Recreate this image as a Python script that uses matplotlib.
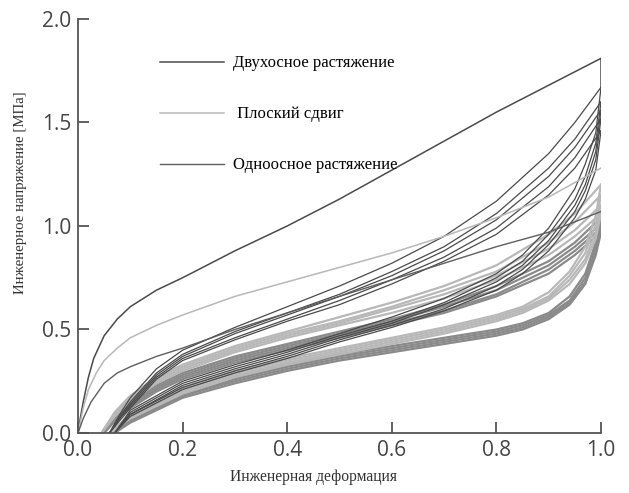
import matplotlib
matplotlib.use('Agg')
import matplotlib.pyplot as plt

# Двухосное растяжение (biaxial) - первое нагружение и петли
bi_first_x = [0, 0.005, 0.01, 0.02, 0.03, 0.05, 0.075, 0.1, 0.15, 0.2, 0.3, 0.4, 0.5, 0.6, 0.7, 0.8, 0.9, 1.0, 1.0]
bi_first_y = [0, 0.08, 0.15, 0.27, 0.36, 0.47, 0.55, 0.61, 0.69, 0.75, 0.88, 1.0, 1.13, 1.27, 1.41, 1.55, 1.68, 1.81, 1.67]
bi_load_x = [0.06, 0.08, 0.1, 0.15, 0.2, 0.3, 0.4, 0.5, 0.6, 0.7, 0.8, 0.9, 0.95, 1.0]
bi_load_y = [
    [0, 0.09, 0.17, 0.31, 0.40, 0.51, 0.61, 0.71, 0.82, 0.95, 1.12, 1.35, 1.50, 1.67],
    [0, 0.08, 0.15, 0.29, 0.38, 0.49, 0.58, 0.67, 0.78, 0.90, 1.06, 1.28, 1.42, 1.60],
    [0, 0.07, 0.14, 0.28, 0.37, 0.48, 0.57, 0.66, 0.76, 0.88, 1.03, 1.24, 1.38, 1.56],
    [0, 0.07, 0.13, 0.27, 0.36, 0.46, 0.55, 0.64, 0.74, 0.85, 0.99, 1.19, 1.33, 1.52],
    [0, 0.06, 0.12, 0.26, 0.35, 0.45, 0.54, 0.62, 0.72, 0.83, 0.96, 1.15, 1.28, 1.46],
]
bi_unload_x = [1.0, 0.99, 0.97, 0.95, 0.9, 0.85, 0.8, 0.7, 0.6, 0.5, 0.4, 0.3, 0.2, 0.1, 0.07]
bi_unload_y = [
    [1.67, 1.45, 1.30, 1.18, 0.99, 0.86, 0.77, 0.65, 0.56, 0.48, 0.40, 0.33, 0.25, 0.11, 0],
    [1.60, 1.40, 1.24, 1.13, 0.96, 0.83, 0.75, 0.63, 0.54, 0.47, 0.39, 0.32, 0.24, 0.10, 0],
    [1.56, 1.36, 1.20, 1.10, 0.93, 0.81, 0.73, 0.62, 0.53, 0.46, 0.38, 0.31, 0.23, 0.09, 0],
    [1.52, 1.32, 1.17, 1.07, 0.91, 0.79, 0.71, 0.60, 0.52, 0.45, 0.37, 0.30, 0.22, 0.09, 0],
    [1.46, 1.27, 1.13, 1.04, 0.88, 0.77, 0.69, 0.59, 0.51, 0.44, 0.36, 0.29, 0.21, 0.08, 0],
]

# Плоский сдвиг (planar shear)
pl_first_x = [0, 0.005, 0.01, 0.02, 0.035, 0.05, 0.075, 0.1, 0.15, 0.2, 0.3, 0.4, 0.5, 0.6, 0.7, 0.8, 0.9, 1.0]
pl_first_y = [0, 0.06, 0.12, 0.21, 0.29, 0.35, 0.41, 0.46, 0.52, 0.57, 0.66, 0.73, 0.80, 0.87, 0.95, 1.04, 1.14, 1.28]
pl_load_x = [0.045, 0.07, 0.1, 0.15, 0.2, 0.3, 0.4, 0.5, 0.6, 0.7, 0.8, 0.9, 0.95, 1.0]
pl_load_y = [
    [0, 0.10, 0.18, 0.27, 0.33, 0.42, 0.49, 0.56, 0.63, 0.71, 0.81, 0.96, 1.06, 1.20],
    [0, 0.09, 0.17, 0.26, 0.32, 0.41, 0.48, 0.54, 0.61, 0.69, 0.78, 0.92, 1.02, 1.15],
    [0, 0.09, 0.16, 0.25, 0.31, 0.40, 0.47, 0.53, 0.60, 0.67, 0.76, 0.89, 0.98, 1.10],
    [0, 0.08, 0.15, 0.24, 0.30, 0.39, 0.46, 0.52, 0.58, 0.65, 0.74, 0.86, 0.95, 1.06],
]
pl_unload_x = [1.0, 0.99, 0.97, 0.94, 0.9, 0.85, 0.8, 0.7, 0.6, 0.5, 0.4, 0.3, 0.2, 0.1, 0.06]
pl_unload_y = [
    [1.20, 1.05, 0.90, 0.78, 0.68, 0.61, 0.57, 0.51, 0.46, 0.41, 0.36, 0.30, 0.22, 0.09, 0],
    [1.15, 1.01, 0.87, 0.76, 0.66, 0.60, 0.56, 0.50, 0.45, 0.40, 0.35, 0.29, 0.21, 0.08, 0],
    [1.10, 0.97, 0.84, 0.74, 0.65, 0.59, 0.55, 0.49, 0.44, 0.39, 0.34, 0.28, 0.20, 0.08, 0],
    [1.06, 0.94, 0.82, 0.72, 0.64, 0.58, 0.54, 0.48, 0.43, 0.38, 0.33, 0.27, 0.19, 0.07, 0],
]

# Одноосное растяжение (uniaxial)
un_first_x = [0, 0.01, 0.025, 0.05, 0.075, 0.1, 0.15, 0.2, 0.3, 0.4, 0.5, 0.6, 0.7, 0.8, 0.9, 1.0]
un_first_y = [0, 0.07, 0.15, 0.24, 0.29, 0.32, 0.37, 0.41, 0.50, 0.58, 0.66, 0.74, 0.82, 0.90, 0.97, 1.07]
un_load_x = [0.05, 0.075, 0.1, 0.15, 0.2, 0.3, 0.4, 0.5, 0.6, 0.7, 0.8, 0.9, 0.95, 1.0]
un_load_y = [
    [0, 0.09, 0.15, 0.23, 0.29, 0.37, 0.43, 0.49, 0.55, 0.62, 0.71, 0.83, 0.92, 1.04],
    [0, 0.08, 0.14, 0.22, 0.28, 0.36, 0.42, 0.48, 0.54, 0.61, 0.69, 0.81, 0.90, 1.01],
    [0, 0.08, 0.13, 0.21, 0.27, 0.35, 0.41, 0.47, 0.53, 0.59, 0.67, 0.79, 0.88, 0.99],
    [0, 0.07, 0.12, 0.20, 0.26, 0.34, 0.40, 0.46, 0.52, 0.58, 0.66, 0.77, 0.86, 0.97],
]
un_unload_x = [1.0, 0.99, 0.97, 0.94, 0.9, 0.85, 0.8, 0.7, 0.6, 0.5, 0.4, 0.3, 0.2, 0.1, 0.07]
un_unload_y = [
    [1.04, 0.92, 0.77, 0.66, 0.58, 0.53, 0.50, 0.46, 0.42, 0.38, 0.33, 0.27, 0.19, 0.07, 0],
    [1.01, 0.90, 0.75, 0.64, 0.57, 0.52, 0.49, 0.45, 0.41, 0.37, 0.32, 0.26, 0.18, 0.06, 0],
    [0.99, 0.88, 0.73, 0.63, 0.56, 0.51, 0.48, 0.44, 0.40, 0.36, 0.31, 0.25, 0.18, 0.06, 0],
    [0.97, 0.86, 0.72, 0.62, 0.55, 0.50, 0.47, 0.43, 0.39, 0.35, 0.30, 0.24, 0.17, 0.05, 0],
]

labels = ['Двухосное растяжение', ' Плоский сдвиг', 'Одноосное растяжение']
c_bi, c_pl, c_un = '#4a4a4a', '#b8b8b8', '#8a8a8a'

fig = plt.figure(figsize=(6.29, 4.93), dpi=100)
ax = fig.add_axes([0.124, 0.1217, 0.8315, 0.8398])

# одноосное (толстые средне-серые)
for yy in un_load_y:
    ax.plot(un_load_x, yy, color=c_un, lw=1.6, solid_joinstyle='round')
for yy in un_unload_y:
    ax.plot(un_unload_x, yy, color=c_un, lw=1.6, solid_joinstyle='round')
# плоский сдвиг (светло-серые)
for yy in pl_load_y:
    ax.plot(pl_load_x, yy, color=c_pl, lw=1.6, solid_joinstyle='round')
for yy in pl_unload_y:
    ax.plot(pl_unload_x, yy, color=c_pl, lw=1.6, solid_joinstyle='round')
# двухосное (тёмные тонкие)
for yy in bi_load_y:
    ax.plot(bi_load_x, yy, color=c_bi, lw=0.9)
for yy in bi_unload_y:
    ax.plot(bi_unload_x, yy, color=c_bi, lw=0.9)

l1, = ax.plot(bi_first_x, bi_first_y, color=c_bi, lw=1.1)
l2, = ax.plot(pl_first_x, pl_first_y, color=c_pl, lw=1.1)
l3, = ax.plot(un_first_x, un_first_y, color='#5e5e5e', lw=1.0)

ax.legend([l1, l2, l3], labels, loc='upper left', bbox_to_anchor=(0.157, 0.912),
          frameon=False, borderpad=0, borderaxespad=0,
          handlelength=3.85, handletextpad=0.5, labelspacing=2.1,
          prop={'family': 'Liberation Serif', 'size': 12})

ax.set_xlim(0, 1.0)
ax.set_ylim(0, 2.0)
ax.set_xticks([0, 0.2, 0.4, 0.6, 0.8, 1.0])
ax.set_yticks([0, 0.5, 1.0, 1.5, 2.0])
ax.set_xticklabels(['0.0', '0.2', '0.4', '0.6', '0.8', '1.0'])
ax.set_yticklabels(['0.0', '0.5', '1.0', '1.5', '2.0'])
for s in ['top', 'right']:
    ax.spines[s].set_visible(False)
for s in ['left', 'bottom']:
    ax.spines[s].set_color('#555555')
    ax.spines[s].set_linewidth(1.3)
ax.tick_params(direction='in', length=8, width=1.3, color='#555555',
               labelsize=15, labelcolor='#444444', pad=5)
for t in ax.get_xticklabels() + ax.get_yticklabels():
    t.set_family('Open Sans')

ax.set_xlabel('Инженерная деформация', family='Liberation Serif', fontsize=11.2, color='#333333')
ax.set_ylabel('Инженерное напряжение [МПа]', family='Liberation Serif', fontsize=10.7, color='#333333')
ax.xaxis.set_label_coords(0.45, -0.088)
ax.yaxis.set_label_coords(-0.097, 0.58)

fig.savefig('out.png', dpi=100)
